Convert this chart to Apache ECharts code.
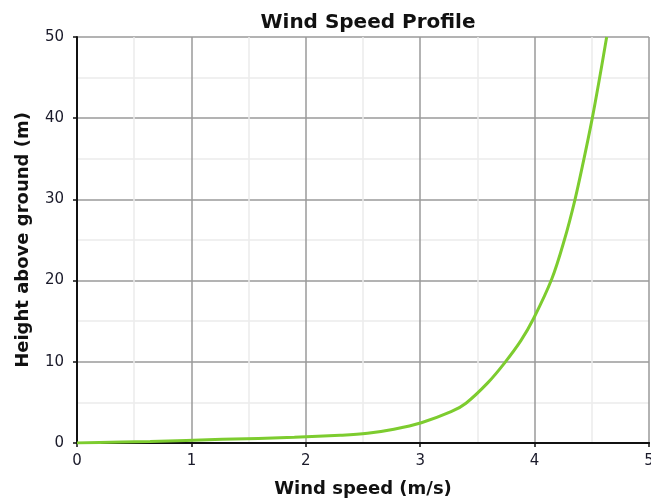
<!DOCTYPE html>
<html>
<head>
<meta charset="utf-8">
<script src="https://cdn.jsdelivr.net/npm/echarts@6/dist/echarts.min.js"></script>
<style>
html,body{margin:0;padding:0;background:#fff;}
#chart{width:651px;height:504px;}
</style>
</head>
<body>
<div id="chart"></div>
<script>
// Wind speed (m/s) and height above ground (m)
const windSpeed = [0, 0.64, 1.27, 1.9, 2.3, 2.54, 2.77, 3.01, 3.27, 3.40, 3.59, 3.74, 3.88, 3.99, 4.15, 4.26, 4.35, 4.43, 4.50, 4.56, 4.63];
const height    = [0, 0.2, 0.45, 0.7, 0.95, 1.2, 1.7, 2.5, 3.85, 4.9, 7.4, 9.9, 12.6, 15.3, 20.2, 25.0, 29.8, 34.9, 39.7, 44.3, 50];
const xTicks = [0, 1, 2, 3, 4, 5];
const yTicks = [0, 10, 20, 30, 40, 50];

const titleText = 'Wind Speed Profile';
const xName = 'Wind speed (m/s)';
const yName = 'Height above ground (m)';

const font = 'DejaVu Sans';
const points = windSpeed.map((v, i) => [v, height[i]]);

const chart = echarts.init(document.getElementById('chart'), null, {renderer: 'canvas'});
chart.setOption({
  animation: false,
  backgroundColor: '#fff',
  title: {
    text: titleText, left: 363, top: 8, textAlign: 'center',
    textStyle: {fontFamily: font, fontSize: 20, fontWeight: 'bold', color: '#111'}
  },
  grid: {left: 77, right: 2, top: 37, bottom: 61, containLabel: false, outerBoundsMode: 'none'},
  xAxis: [{
    type: 'value', min: xTicks[0], max: xTicks[xTicks.length - 1], interval: 1,
    name: xName, nameLocation: 'middle', nameGap: 37,
    nameTextStyle: {fontFamily: font, fontSize: 18, fontWeight: 'bold', color: '#111'},
    axisLine: {show: true, onZero: false, lineStyle: {color: '#111', width: 2}},
    axisTick: {show: true, length: 4, lineStyle: {color: '#111', width: 1.5}},
    axisLabel: {fontFamily: font, fontSize: 15, color: '#1a1a2a', margin: 11},
    splitLine: {show: true, lineStyle: {color: '#9a9a9a', width: 1.5}},
    minorTick: {show: false, splitNumber: 2},
    minorSplitLine: {show: true, lineStyle: {color: '#ececec', width: 1.5}}
  }, {
    type: 'value', position: 'top', min: 0, max: 5,
    axisLine: {show: true, lineStyle: {color: '#111', width: 2}},
    axisTick: {show: false}, axisLabel: {show: false}, splitLine: {show: false}
  }],
  yAxis: {
    type: 'value', min: yTicks[0], max: yTicks[yTicks.length - 1], interval: 10,
    name: yName, nameLocation: 'middle', nameGap: 45,
    nameTextStyle: {fontFamily: font, fontSize: 18, fontWeight: 'bold', color: '#111'},
    axisLine: {show: true, onZero: false, lineStyle: {color: '#111', width: 2}},
    axisTick: {show: true, length: 4, lineStyle: {color: '#111', width: 1.5}},
    axisLabel: {fontFamily: font, fontSize: 15, color: '#1a1a2a', margin: 13},
    splitLine: {show: true, lineStyle: {color: '#9a9a9a', width: 1.5}},
    minorTick: {show: false, splitNumber: 2},
    minorSplitLine: {show: true, lineStyle: {color: '#ececec', width: 1.5}}
  },
  series: [{
    type: 'line', xAxisIndex: 0, data: points, showSymbol: false, smooth: 0.35,
    lineStyle: {color: '#7dcc2f', width: 3}, clip: true, z: 5
  }]
});
</script>
</body>
</html>
